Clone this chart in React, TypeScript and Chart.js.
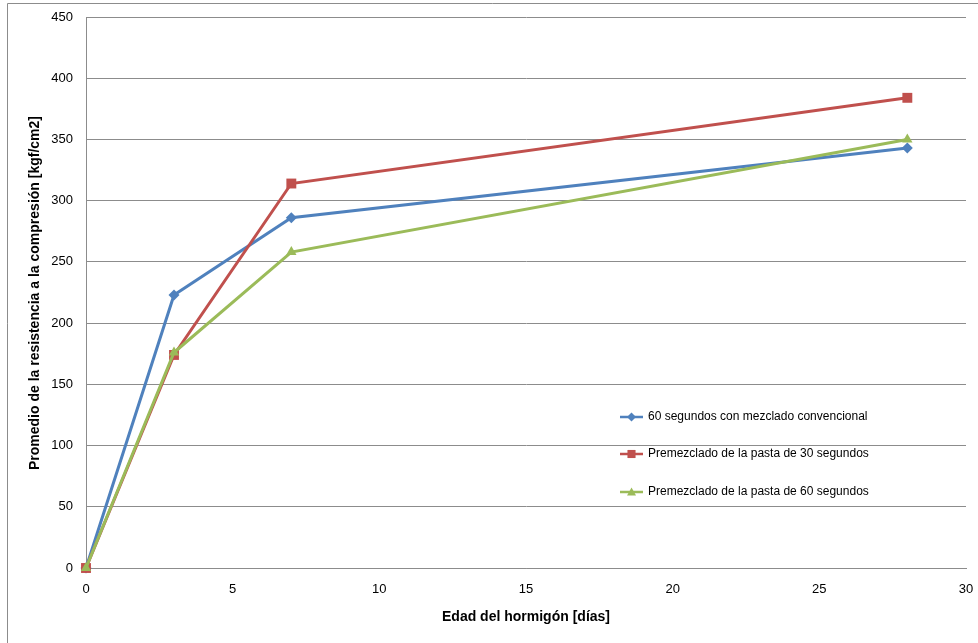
import React, { useEffect, useRef } from "react";
import { Chart, registerables } from "chart.js";

Chart.register(...registerables);

const days = [0, 3, 7, 28];
const seriesNames = [
  "60 segundos con mezclado convencional",
  "Premezclado de la pasta de 30 segundos",
  "Premezclado de la pasta de 60 segundos",
];
const conventional60 = [0, 223, 286, 343];
const premix30 = [0, 174, 314, 384];
const premix60 = [0, 176, 258, 350];
const xTitle = "Edad del hormigón [días]";
const yTitle = "Promedio de la resistencia a la compresión [kgf/cm2]";

const colors = ["#4F81BD", "#C0504D", "#9BBB59"];
const styles = ["rectRot", "rect", "triangle"];
const FONT = "'Liberation Sans', Arial, sans-serif";

function drawMarker(ctx: CanvasRenderingContext2D, style: string, x: number, y: number, r: number) {
  ctx.beginPath();
  if (style === "rectRot") {
    ctx.moveTo(x, y - r);
    ctx.lineTo(x + r, y);
    ctx.lineTo(x, y + r);
    ctx.lineTo(x - r, y);
  } else if (style === "rect") {
    ctx.rect(x - r * 0.9, y - r * 0.9, r * 1.8, r * 1.8);
  } else {
    ctx.moveTo(x, y - r);
    ctx.lineTo(x + r, y + r * 0.75);
    ctx.lineTo(x - r, y + r * 0.75);
  }
  ctx.closePath();
  ctx.fill();
}

const decorPlugin = {
  id: "decor",
  beforeDraw(chart: any) {
    const ctx = chart.ctx;
    ctx.save();
    ctx.fillStyle = "#fff";
    ctx.fillRect(0, 0, chart.width, chart.height);
    ctx.strokeStyle = "#8c8c8c";
    ctx.lineWidth = 1;
    ctx.beginPath();
    ctx.moveTo(7.5, chart.height);
    ctx.lineTo(7.5, 3.5);
    ctx.lineTo(chart.width, 3.5);
    ctx.stroke();
    ctx.restore();
  },
  afterDraw(chart: any) {
    const ctx = chart.ctx;
    ctx.save();
    ctx.fillStyle = "#000";
    ctx.font = `bold 14px ${FONT}`;
    ctx.textAlign = "center";
    ctx.textBaseline = "middle";
    ctx.fillText(xTitle, 526, 617);
    ctx.translate(35, 293);
    ctx.rotate(-Math.PI / 2);
    ctx.fillText(yTitle, 0, 0);
    ctx.restore();

    // legend
    ctx.save();
    const ys = [417, 454, 492];
    ctx.font = `12px ${FONT}`;
    ctx.textBaseline = "middle";
    ctx.textAlign = "left";
    seriesNames.forEach((name, i) => {
      const y = ys[i];
      ctx.strokeStyle = colors[i];
      ctx.lineWidth = 2.5;
      ctx.beginPath();
      ctx.moveTo(620, y);
      ctx.lineTo(643, y);
      ctx.stroke();
      ctx.fillStyle = colors[i];
      drawMarker(ctx, styles[i], 631.5, y, 4.5);
      ctx.fillStyle = "#000";
      ctx.fillText(name, 648, y);
    });
    ctx.restore();
  },
};

export default function App() {
  const ref = useRef<HTMLCanvasElement>(null);
  useEffect(() => {
    document.body.style.margin = "0";
    const values = [conventional60, premix30, premix60];
    const radii = [5.5, 7, 6];
    const chart = new Chart(ref.current!, {
      type: "line",
      data: {
        datasets: seriesNames.map((name, i) => ({
          label: name,
          data: days.map((d, j) => ({ x: d, y: values[i][j] })),
          borderColor: colors[i],
          backgroundColor: colors[i],
          borderWidth: 3,
          pointStyle: styles[i] as any,
          pointRadius: radii[i],
          pointBorderWidth: 0,
          tension: 0,
          clip: false as any,
          order: 2 - i,
        })),
      },
      options: {
        responsive: false,
        animation: false,
        events: [],
        layout: { padding: { top: 17, right: 12, left: 0, bottom: 0 } },
        plugins: {
          legend: { display: false },
          tooltip: { enabled: false },
        },
        scales: {
          x: {
            type: "linear",
            min: 0,
            max: 30,
            ticks: { stepSize: 5, padding: 14, color: "#000", font: { family: FONT, size: 13 } },
            grid: { display: false, drawTicks: false },
            border: { display: true, color: "#8c8c8c", width: 1 },
            afterFit: (s: any) => {
              s.height = 75;
              s.paddingLeft = 0;
              s.paddingRight = 0;
            },
          },
          y: {
            min: 0,
            max: 450,
            ticks: { stepSize: 50, padding: 13, color: "#000", font: { family: FONT, size: 13 } },
            grid: { color: "#8c8c8c", drawTicks: false },
            border: { display: true, color: "#8c8c8c", width: 1 },
            afterFit: (s: any) => {
              s.width = 86;
              s.paddingTop = 0;
              s.paddingBottom = 0;
            },
          },
        },
      },
      plugins: [decorPlugin],
    });
    return () => chart.destroy();
  }, []);
  return <canvas ref={ref} width={978} height={643} style={{ display: "block" }} />;
}
